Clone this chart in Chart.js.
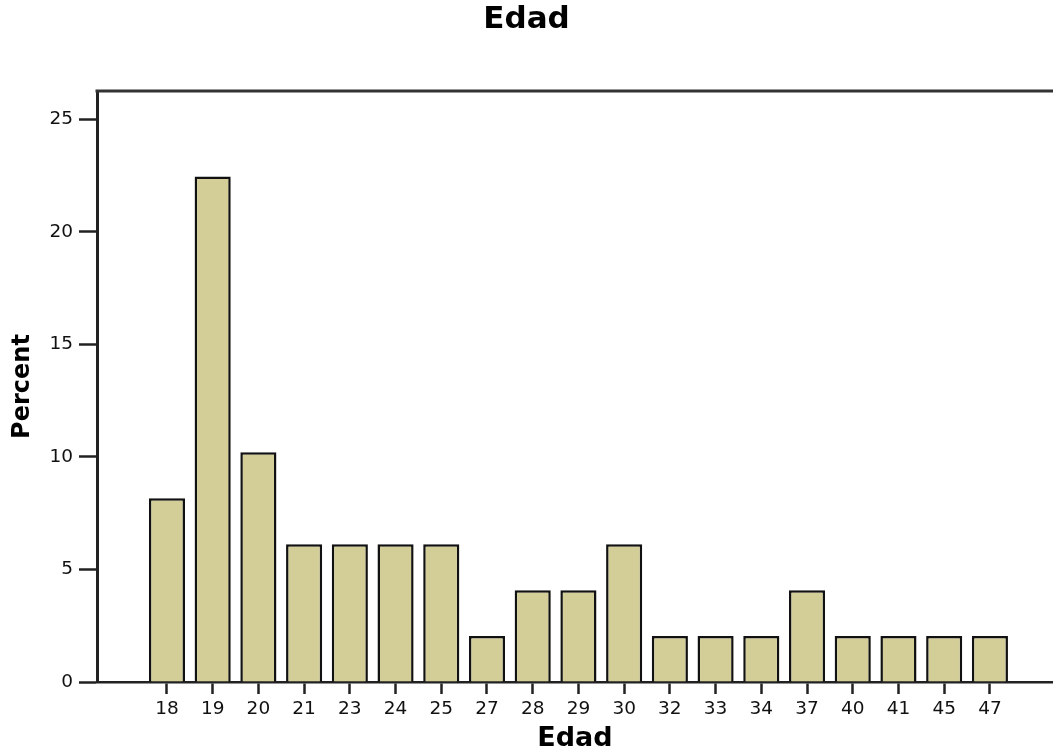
<!DOCTYPE html>
<html>
<head>
<meta charset="utf-8">
<script src="https://cdn.jsdelivr.net/npm/chart.js@4/dist/chart.umd.min.js"></script>
<style>
  html, body { margin: 0; padding: 0; background: #fff; overflow: hidden; }
  #wrap { width: 1053px; height: 750px; position: relative; }
</style>
</head>
<body>
<div id="wrap"><canvas id="c"></canvas></div>
<script>
const chartTitle = 'Edad';
const xTitle = 'Edad';
const yTitle = 'Percent';
const categories = ['18','19','20','21','23','24','25','27','28','29','30','32','33','34','37','40','41','45','47'];
const percents = [8.16, 22.45, 10.20, 6.12, 6.12, 6.12, 6.12, 2.04, 4.08, 4.08, 6.12, 2.04, 2.04, 2.04, 4.08, 2.04, 2.04, 2.04, 2.04];
const yTicks = [0, 5, 10, 15, 20, 25];

const points = categories.map((c, i) => ({ x: i, y: percents[i] }));

const frameTop = {
  id: 'frameTop',
  afterDraw(chart) {
    const { ctx, chartArea } = chart;
    ctx.save();
    ctx.strokeStyle = '#333';
    ctx.lineWidth = 3;
    ctx.beginPath();
    ctx.moveTo(chartArea.left - 1.5, chartArea.top);
    ctx.lineTo(chartArea.right, chartArea.top);
    ctx.stroke();
    ctx.restore();
  }
};

new Chart(document.getElementById('c'), {
  type: 'bar',
  data: {
    datasets: [{
      data: points,
      backgroundColor: '#D3CE97',
      borderColor: '#111',
      borderWidth: 2.5,
      barPercentage: 0.79,
      categoryPercentage: 1.0
    }]
  },
  options: {
    responsive: true,
    maintainAspectRatio: false,
    animation: false,
    layout: { padding: { left: 0, right: 0, top: 0, bottom: 0 } },
    plugins: {
      legend: { display: false },
      tooltip: { enabled: false },
      title: {
        display: true,
        text: chartTitle,
        color: '#000',
        font: { family: 'DejaVu Sans', size: 31, weight: 'bold', lineHeight: 1.2 },
        padding: { top: 1, bottom: 52.8 }
      }
    },
    scales: {
      x: {
        type: 'linear',
        min: -1.53,
        max: 19.38,
        offset: false,
        afterBuildTicks: (s) => { s.ticks = categories.map((c, i) => ({ value: i })); },
        afterFit: (s) => { s.height = 68; },
        ticks: {
          autoSkip: false,
          maxRotation: 0,
          minRotation: 0,
          padding: 4,
          color: '#111',
          font: { family: 'DejaVu Sans', size: 18.5 },
          callback: (v) => categories[v]
        },
        grid: {
          display: true,
          offset: false,
          drawOnChartArea: false,
          drawTicks: true,
          tickLength: 12,
          tickColor: '#222',
          tickWidth: 2.5
        },
        border: { display: true, color: '#222', width: 2.5 },
        title: {
          display: true,
          text: xTitle,
          color: '#000',
          font: { family: 'DejaVu Sans', size: 27, weight: 'bold', lineHeight: 1.0 },
          padding: { top: 0, bottom: -2 }
        }
      },
      y: {
        min: 0,
        max: 26.25,
        afterBuildTicks: (s) => { s.ticks = yTicks.map(v => ({ value: v })); },
        afterFit: (s) => { s.width = 97; },
        ticks: {
          padding: 6,
          color: '#111',
          font: { family: 'DejaVu Sans', size: 18.5 }
        },
        grid: {
          display: true,
          drawOnChartArea: false,
          drawTicks: true,
          tickLength: 18,
          tickColor: '#222',
          tickWidth: 2.5
        },
        border: { display: true, color: '#222', width: 3 },
        title: {
          display: true,
          text: yTitle,
          color: '#000',
          font: { family: 'DejaVu Sans', size: 24, weight: 'bold', lineHeight: 1.2 },
          padding: { top: 8, bottom: 0 }
        }
      }
    }
  },
  plugins: [frameTop]
});
</script>
</body>
</html>
